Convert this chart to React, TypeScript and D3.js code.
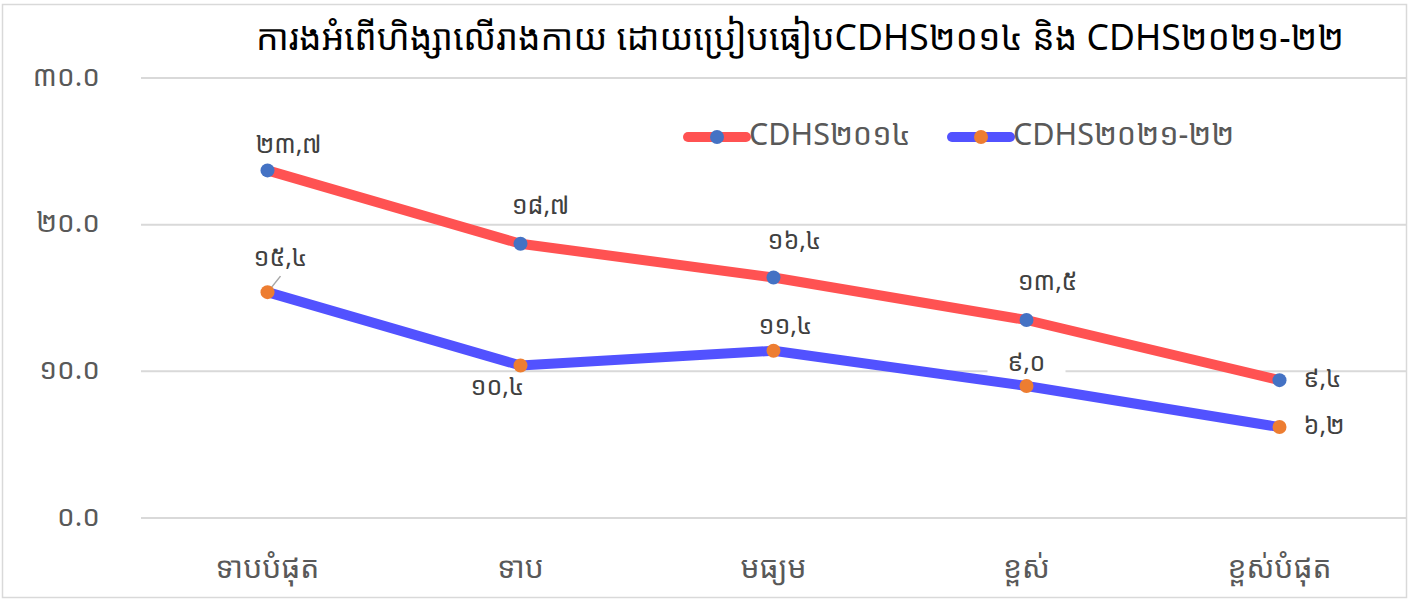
import React from 'react'
import * as d3 from 'd3'

// data
const categories = ['ទាបបំផុត', 'ទាប', 'មធ្យម', 'ខ្ពស់', 'ខ្ពស់បំផុត']
const cdhs2014 = [23.7, 18.7, 16.4, 13.5, 9.4]
const cdhs2022 = [15.4, 10.4, 11.4, 9.0, 6.2]
const seriesNames = ['CDHS២០១៤', 'CDHS២០២១-២២']
const yTicks = [0, 10, 20, 30]
const title = 'ការងអំពើហិង្សាលើរាងកាយ ដោយប្រៀបធៀបCDHS២០១៤ និង CDHS២០២១-២២'

const W = 1412
const H = 599
const FONT = '"Noto Sans Khmer", "Khmer OS Siemreap", "Noto Sans", "DejaVu Sans", sans-serif'

const khDigits = '០១២៣៤៥៦៧៨៩'
const toKhmer = (s: string) => s.replace(/[0-9]/g, d => khDigits[+d])

// label placement (layout only): [dx, dy, anchor]
const labelPos2014: [number, number, string][] = [
  [21, -24, 'middle'], [20, -36, 'middle'], [21, -35, 'middle'], [21, -37, 'middle'], [24, 0, 'start']
]
const labelPos2022: [number, number, string][] = [
  [13, -33, 'middle'], [-23, 23, 'middle'], [12, -24, 'middle'], [0, -22, 'middle'], [24, 0, 'start']
]

const App = () => {
  const x = d3.scaleBand<string>().domain(categories).range([141, 1406]).padding(0)
  const cx = (c: string) => (x(c) as number) + x.bandwidth() / 2
  const y = d3.scaleLinear().domain([0, 30]).range([518, 78])

  const line = d3.line<number>()
    .x((_, i) => cx(categories[i]))
    .y(d => y(d))

  const series = [
    { name: seriesNames[0], values: cdhs2014, stroke: '#FF5252', marker: '#4472C4', pos: labelPos2014 },
    { name: seriesNames[1], values: cdhs2022, stroke: '#5252FF', marker: '#ED7D31', pos: labelPos2022 },
  ]

  const fmtLabel = (v: number) => toKhmer(d3.format('.1f')(v).replace('.', ','))

  return (
    <svg width={W} height={H} style={{ position: 'absolute', left: 0, top: 0, fontFamily: FONT }}>
      <rect x={0} y={0} width={W} height={H} fill="#fff" />
      <rect x={2.5} y={4.5} width={1404} height={593} fill="none" stroke="#D9D9D9" strokeWidth={1.5} />

      <text x={800} y={40} textAnchor="middle" dominantBaseline="middle" fontSize={35.5} fill="#000">{title}</text>

      {yTicks.map(t => (
        <g key={t}>
          <line x1={141} x2={1406} y1={y(t)} y2={y(t)} stroke="#D9D9D9" strokeWidth={2} />
          <text x={100} y={y(t)} textAnchor="end" dominantBaseline="middle" fontSize={28} fill="#595959">
            {toKhmer(d3.format('.1f')(t))}
          </text>
        </g>
      ))}

      {categories.map(c => (
        <text key={c} x={cx(c)} y={570} textAnchor="middle" dominantBaseline="middle" fontSize={30} fill="#595959">{c}</text>
      ))}

      {/* label background box on the 4th point of the second series */}
      <rect x={cx(categories[3]) - 39} y={y(cdhs2022[3]) - 37} width={78} height={29} fill="#fff" />

      {series.map(s => (
        <path key={s.name} d={line(s.values) || ''} fill="none" stroke={s.stroke} strokeWidth={10} strokeLinejoin="round" />
      ))}

      {/* leader line for first label */}
      <line x1={cx(categories[0]) + 13} y1={y(cdhs2022[0]) - 16} x2={cx(categories[0]) + 1} y2={y(cdhs2022[0]) - 1} stroke="#A6A6A6" strokeWidth={1.5} />

      {series.map(s => (
        <g key={s.name + 'm'}>
          {s.values.map((v, i) => (
            <circle key={i} cx={cx(categories[i])} cy={y(v)} r={7} fill={s.marker} />
          ))}
          {s.values.map((v, i) => (
            <text key={'t' + i} x={cx(categories[i]) + s.pos[i][0]} y={y(v) + s.pos[i][1]}
              textAnchor={s.pos[i][2]} dominantBaseline="middle" fontSize={25} fill="#404040">
              {fmtLabel(v)}
            </text>
          ))}
        </g>
      ))}

      {/* legend */}
      {series.map((s, i) => {
        const lx = i === 0 ? 688 : 952
        return (
          <g key={s.name + 'l'} transform={`translate(${lx},137)`}>
            <line x1={0} x2={58} y1={0} y2={0} stroke={s.stroke} strokeWidth={10} strokeLinecap="round" />
            <circle cx={29} cy={0} r={7} fill={s.marker} />
            <text x={61} y={0} dominantBaseline="middle" fontSize={30.5} fill="#595959">{s.name}</text>
          </g>
        )
      })}
    </svg>
  )
}

export default App
